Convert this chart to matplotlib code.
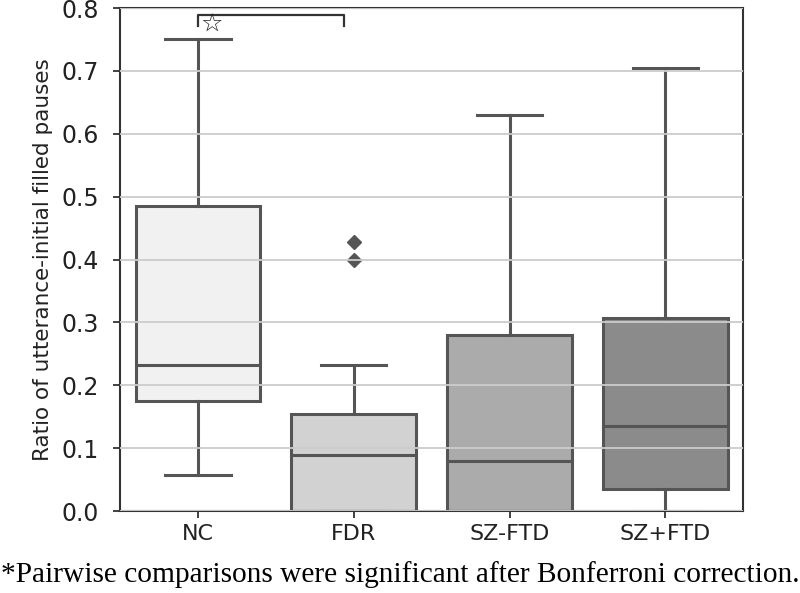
import matplotlib.pyplot as plt
import numpy as np

# data
groups = ['NC', 'FDR', 'SZ-FTD', 'SZ+FTD']
whislo = [0.058, 0.0, 0.0, 0.0]
q1 = [0.175, 0.0, 0.0, 0.035]
med = [0.233, 0.09, 0.08, 0.135]
q3 = [0.485, 0.155, 0.28, 0.307]
whishi = [0.75, 0.233, 0.63, 0.705]
fliers = [[], [0.428, 0.40], [], []]
colors = ['#f1f1f1', '#d2d2d2', '#ababab', '#8b8b8b']

stats = []
for i in range(len(groups)):
    stats.append(dict(label=groups[i], whislo=whislo[i], q1=q1[i], med=med[i],
                      q3=q3[i], whishi=whishi[i], fliers=fliers[i]))

line_c = '#555555'
fig = plt.figure(figsize=(8, 5.93), dpi=100)
ax = fig.add_axes([0.15, 0.138, 0.779, 0.8485])

bp = ax.bxp(stats, positions=np.arange(len(groups)), widths=0.8, patch_artist=True,
            boxprops=dict(edgecolor=line_c, linewidth=2.2),
            whiskerprops=dict(color=line_c, linewidth=2.2),
            capprops=dict(color=line_c, linewidth=2.2),
            medianprops=dict(color=line_c, linewidth=2.2),
            flierprops=dict(marker='D', markerfacecolor=line_c, markeredgecolor=line_c,
                            markersize=7),
            capwidths=0.42)
for patch, c in zip(bp['boxes'], colors):
    patch.set_facecolor(c)

ax.set_xlim(-0.5, 3.5)
ax.set_ylim(0, 0.8)
ax.set_yticks(np.arange(0, 0.81, 0.1))
ax.set_yticklabels([f'{v:.1f}' for v in np.arange(0, 0.81, 0.1)])
ax.yaxis.grid(True, color='#cccccc', linewidth=1.3)
ax.set_axisbelow(False)
for sp in ax.spines.values():
    sp.set_color('#333333')
    sp.set_linewidth(1.5)
ax.tick_params(axis='both', colors='#333333', length=5, width=1.3, labelcolor='#222222')
ax.tick_params(axis='y', labelsize=17, pad=10)
ax.tick_params(axis='x', labelsize=16, pad=4)
ax.set_ylabel('Ratio of utterance-initial filled pauses', fontsize=15.5,
              family='DejaVu Sans', color='#222222', labelpad=6)

# significance bracket NC vs FDR
ax.plot([0, 0, 0.94, 0.94], [0.771, 0.789, 0.789, 0.771], color='#333333', linewidth=1.6,
        clip_on=False)
ax.text(0.09, 0.773, '\u2606', ha='center', va='center', fontsize=18, fontweight='bold',
        color='#222222', family='DejaVu Sans')

fig.text(0.5, 0.018, '*Pairwise comparisons were significant after Bonferroni correction.',
         ha='center', va='baseline', fontsize=21.2, family='Liberation Serif')

fig.savefig('out.png', dpi=100)
